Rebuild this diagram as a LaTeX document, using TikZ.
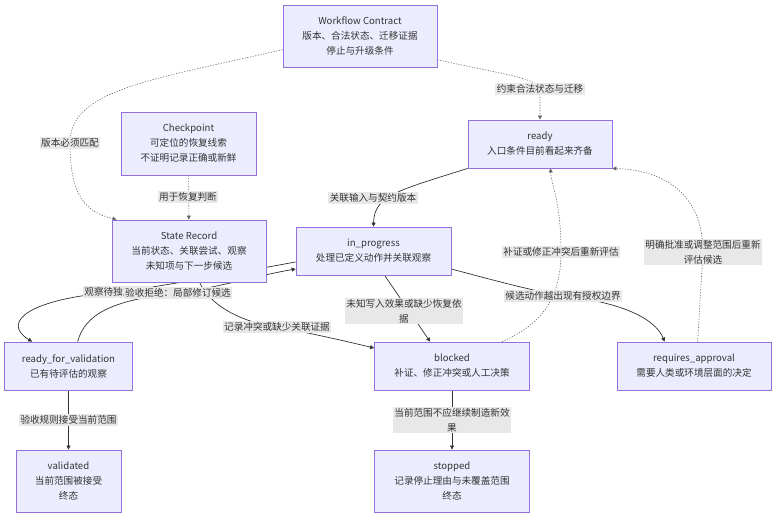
\documentclass[tikz,border=0pt]{standalone}
\usepackage{fontspec}
\setmainfont{Noto Sans CJK SC}
\usetikzlibrary{arrows.meta,backgrounds}
\definecolor{nodefill}{HTML}{ECECFF}
\definecolor{nodeline}{HTML}{9370DB}
\definecolor{edgeline}{HTML}{333333}
\definecolor{labelbg}{HTML}{E8E8E8}
\begin{document}
\begin{tikzpicture}[
		x=1pt, y=-1pt,
		font=\fontsize{9.6}{15}\selectfont,
		arrow/.style={-{Triangle[length=4pt,width=4pt]}, draw=edgeline, line width=0.7pt},
		dotarrow/.style={arrow, draw=edgeline!75, line width=0.6pt, dash pattern=on 1.2pt off 1.5pt},
		block/.style={draw=nodeline, fill=nodefill, line width=0.8pt, align=center, text=edgeline, inner sep=2pt},
		edgelabel/.style={fill=labelbg, align=center, text=edgeline, inner sep=1.5pt},
	]
		\useasboundingbox (0,0) rectangle (784,523);
		\node (wc) at (360,36) [block, minimum width=154pt, minimum height=62pt] {Workflow Contract\\版本、合法状态、迁移证据\\停止与升级条件};
		\node (cp) at (188.5,143.5) [block, minimum width=135pt, minimum height=63pt] {Checkpoint\\可定位的恢复线索\\不证明记录正确或新鲜};
		\node (rd) at (540,144) [block, minimum width=144pt, minimum height=48pt] {ready\\入口条件目前看起来齐备};
		\node (sr) at (189,251) [block, minimum width=154pt, minimum height=62pt] {State Record\\当前状态、关联尝试、观察\\未知项与下一步候选};
		\node (ip) at (373.5,251) [block, minimum width=155pt, minimum height=48pt] {in\_progress\\处理已定义动作并关联观察};
		\node (rv) at (68.5,366) [block, minimum width=128pt, minimum height=48pt] {ready\_for\_validation\\已有待评估的观察};
		\node (bl) at (452,366) [block, minimum width=155pt, minimum height=48pt] {blocked\\补证、修正冲突或人工决策};
		\node (ra) at (694,366) [block, minimum width=154pt, minimum height=48pt] {requires\_approval\\需要人类或环境层面的决定};
		\node (va) at (68.5,481) [block, minimum width=105pt, minimum height=62pt] {validated\\当前范围被接受\\终态};
		\node (st) at (452,481) [block, minimum width=155pt, minimum height=62pt] {stopped\\记录停止理由与未覆盖范围\\终态};

		\node (l1) at (70,143) [edgelabel] {版本必须匹配};
		\node (l2) at (540,89) [edgelabel] {约束合法状态与迁移};
		\node (l3) at (188,197) [edgelabel] {用于恢复判断};
		\node (l4) at (373,198) [edgelabel] {关联输入与契约版本};
		\node (l5) at (118,292) [edgelabel] {观察待独立验证};
		\node (l6) at (178,293) [edgelabel] {验收拒绝：局部修订候选};
		\node (l7) at (277,327) [edgelabel] {记录冲突或缺少关联证据};
		\node (l8) at (404,311) [edgelabel] {未知写入效果或缺少恢复依\\据};
		\node (l9) at (563,296) [edgelabel] {候选动作越出现有授权边界};
		\node (l10) at (561,252) [edgelabel] {补证或修正冲突后重新评估};
		\node (l11) at (703,252) [edgelabel] {明确批准或调整范围后重新\\评估候选};
		\node (l12) at (68.5,420) [edgelabel] {验收规则接受当前范围};
		\node (l13) at (452,420) [edgelabel] {当前范围不应继续制造新效\\果};

		\begin{scope}[on background layer]
			\draw[dotarrow] (wc.190) .. controls (150,80) and (70,90) .. (l1.center) .. controls (70,195) and (85,212) .. ([xshift=5pt]sr.north west);
			\draw[dotarrow] (wc.-17) .. controls (490,72) and (540,78) .. (l2.center) -- (rd.north);
			\draw[dotarrow] (cp) -- (sr);
			\draw[arrow] (rd.south west) .. controls (400,190) and (374,195) .. (ip.north);
			\draw[arrow] ([yshift=-11pt]ip.west) .. controls (240,272) and (170,285) .. (l5.center) .. controls (30,298) and (0,322) .. ([xshift=28pt]rv.north west);
			\draw[arrow] ([xshift=73.5pt]rv.north west) .. controls (85,315) and (110,300) .. (l6.center) .. controls (220,287) and (260,275) .. ([yshift=-18pt]ip.west);
			\draw[arrow] ([xshift=88pt]sr.south west) .. controls (210,305) and (240,322) .. (l7.center) .. controls (310,333) and (345,341) .. ([yshift=18pt]bl.west);
			\draw[arrow] ([xshift=89pt]ip.south west) -- ([xshift=56pt]bl.north west);
			\draw[arrow] ([yshift=-18pt]ip.east) .. controls (500,282) and (530,290) .. (l9.center) .. controls (620,302) and (655,318) .. ([xshift=48pt]ra.north west);
			\draw[dotarrow] ([xshift=128pt]bl.north west) .. controls (540,325) and (561,300) .. (l10.center) .. controls (561,200) and (551,185) .. ([xshift=83pt]rd.south west);
			\draw[dotarrow] ([xshift=81pt]ra.north west) -- (l11.center) .. controls (703,195) and (665,170) .. (rd.south east);
			\draw[arrow] (rv) -- (va);
			\draw[arrow] (bl) -- (st);
		\end{scope}
	\end{tikzpicture}
\end{document}
